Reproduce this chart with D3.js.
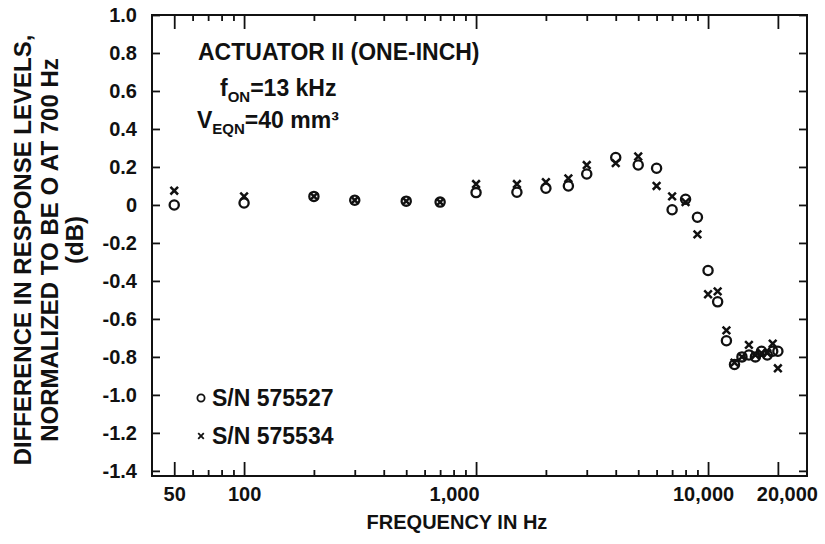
<!DOCTYPE html>
<html><head><meta charset="utf-8">
<script src="https://cdn.jsdelivr.net/npm/d3@7"></script>
<style>
body{margin:0;background:#fff;}
svg text{font-family:"Liberation Sans",Arial,Helvetica,sans-serif;font-weight:bold;fill:#111;}
</style></head>
<body><svg id="c" width="825" height="544"></svg>
<script>
const freqs = [50,100,200,300,500,700,1000,1500,2000,2500,3000,4000,5000,6000,7000,8000,9000,10000,11000,12000,13000,14000,15000,16000,17000,18000,19000,20000];
const sn575527 = [0.0,0.01,0.045,0.025,0.02,0.015,0.065,0.067,0.088,0.10,0.163,0.25,0.21,0.193,-0.025,0.03,-0.065,-0.345,-0.51,-0.715,-0.84,-0.80,-0.79,-0.80,-0.77,-0.79,-0.77,-0.77];
const sn575534 = [0.075,0.045,0.045,0.025,0.02,0.015,0.11,0.11,0.12,0.14,0.21,0.22,0.255,0.10,0.045,0.015,-0.155,-0.47,-0.455,-0.66,-0.83,-0.80,-0.737,-0.79,-0.78,-0.78,-0.73,-0.86];
const yTicks = [1.0,0.8,0.6,0.4,0.2,0,-0.2,-0.4,-0.6,-0.8,-1.0,-1.2,-1.4];
const yTickLabels = ["1.0","0.8","0.6","0.4","0.2","0","-0.2","-0.4","-0.6","-0.8","-1.0","-1.2","-1.4"];
const xMajor = [50,100,1000,10000,20000];
const xMajorLabels = ["50","100","1,000","10,000","20,000"];
const xMinor = [60,70,80,90,200,300,400,500,600,700,800,900,2000,3000,4000,5000,6000,7000,8000,9000];
const legendLabels = ["S/N 575527","S/N 575534"];

const L=152,R=807,T=15,B=476;
const svg = d3.select("#c");
const x = d3.scaleLog().domain([40.1,26700]).range([L,R]);
const y = d3.scaleLinear().domain([-1.427,1.0]).range([B,T]);

svg.append("rect").attr("x",L).attr("y",T).attr("width",R-L).attr("height",B-T)
  .attr("fill","none").attr("stroke","#111").attr("stroke-width",2);

function styleAxis(g){ g.select(".domain").remove(); g.selectAll(".tick line").attr("stroke","#111").attr("stroke-width",1.8); }
const labelShift = {1000:-22, 10000:-5, 20000:9};
svg.append("g").attr("transform",`translate(0,${B})`)
  .call(d3.axisBottom(x).tickValues(xMinor).tickSize(-6).tickFormat(""))
  .call(styleAxis);
svg.append("g").attr("transform",`translate(0,${B})`)
  .call(d3.axisBottom(x).tickValues(xMajor).tickSize(-14).tickFormat((d,i)=>xMajorLabels[i]).tickPadding(11))
  .call(styleAxis)
  .call(g=>g.selectAll("text").attr("font-size",20).attr("fill","#111")
    .attr("dx",(d)=>labelShift[d]||0));
svg.append("g").attr("transform",`translate(0,${T})`)
  .call(d3.axisTop(x).tickValues(xMinor).tickSize(-6).tickFormat("")).call(styleAxis);
svg.append("g").attr("transform",`translate(0,${T})`)
  .call(d3.axisTop(x).tickValues(xMajor).tickSize(-14).tickFormat("")).call(styleAxis);
svg.append("g").attr("transform",`translate(${L},0)`)
  .call(d3.axisLeft(y).tickValues(yTicks).tickSize(-8).tickFormat((d,i)=>yTickLabels[i]).tickPadding(15))
  .call(styleAxis)
  .call(g=>g.selectAll("text").attr("font-size",20).attr("fill","#111"));
svg.append("g").attr("transform",`translate(${R},0)`)
  .call(d3.axisRight(y).tickValues(yTicks).tickSize(-8).tickFormat("")).call(styleAxis);

const plot = svg.append("g");
plot.selectAll("circle.o").data(freqs.map((f,i)=>[f,sn575527[i]])).join("circle")
  .attr("cx",d=>x(d[0])).attr("cy",d=>y(d[1])).attr("r",4.6)
  .attr("fill","none").attr("stroke","#111").attr("stroke-width",2.3);
const cr = 3.8;
plot.selectAll("path.x").data(freqs.map((f,i)=>[f,sn575534[i]])).join("path")
  .attr("d",d=>{const cx=x(d[0]),cy=y(d[1]);return `M${cx-cr},${cy-cr}L${cx+cr},${cy+cr}M${cx-cr},${cy+cr}L${cx+cr},${cy-cr}`;})
  .attr("stroke","#111").attr("stroke-width",2.5).attr("fill","none");

svg.append("text").attr("x",198).attr("y",60).attr("font-size",23).text("ACTUATOR II (ONE-INCH)");
const t2 = svg.append("text").attr("x",220).attr("y",96).attr("font-size",23);
t2.append("tspan").text("f");
t2.append("tspan").attr("font-size",15).attr("dy",6).text("ON");
t2.append("tspan").attr("dy",-6).text("=13 kHz");
const t3 = svg.append("text").attr("x",197).attr("y",128).attr("font-size",23);
t3.append("tspan").text("V");
t3.append("tspan").attr("font-size",15).attr("dy",6).text("EQN");
t3.append("tspan").attr("dy",-6).text("=40 mm³");

const lg = svg.append("g");
lg.append("circle").attr("cx",201).attr("cy",398).attr("r",3.6).attr("fill","none").attr("stroke","#111").attr("stroke-width",1.8);
lg.append("text").attr("x",212).attr("y",406).attr("font-size",23).text(legendLabels[0]);
const lx=201, ly=436, lr=2.8;
lg.append("path").attr("d",`M${lx-lr},${ly-lr}L${lx+lr},${ly+lr}M${lx-lr},${ly+lr}L${lx+lr},${ly-lr}`).attr("stroke","#111").attr("stroke-width",1.8);
lg.append("text").attr("x",212).attr("y",444).attr("font-size",23).text(legendLabels[1]);

svg.append("text").attr("x",457).attr("y",529).attr("text-anchor","middle").attr("font-size",20).text("FREQUENCY IN Hz");
const yt = svg.append("text").attr("transform","translate(0,250) rotate(-90)").attr("text-anchor","middle").attr("font-size",24);
yt.append("tspan").attr("x",0).attr("y",31).text("DIFFERENCE IN RESPONSE LEVELS,");
yt.append("tspan").attr("x",0).attr("y",58).text("NORMALIZED TO BE O AT 700 Hz");
yt.append("tspan").attr("x",10).attr("y",83).text("(dB)");
</script></body></html>
